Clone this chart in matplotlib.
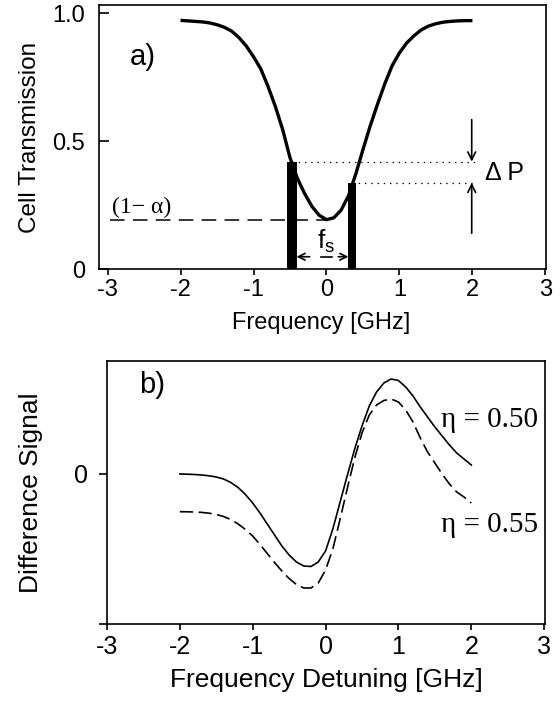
import numpy as np
import matplotlib
matplotlib.use('Agg')
import matplotlib.pyplot as plt

plt.rcParams['font.family'] = ['Liberation Sans', 'DejaVu Sans']
plt.rcParams['lines.scale_dashes'] = False
plt.rcParams['axes.unicode_minus'] = False

# ---------------------------------------------------------------- data
freq = [-2.0, -1.9, -1.8, -1.7, -1.6, -1.5, -1.4, -1.3, -1.2, -1.1, -1.0,
        -0.9, -0.8, -0.7, -0.6, -0.5, -0.4, -0.3, -0.2, -0.1, 0.0,
        0.1, 0.2, 0.3, 0.4, 0.5, 0.6, 0.7, 0.8, 0.9, 1.0,
        1.1, 1.2, 1.3, 1.4, 1.5, 1.6, 1.7, 1.8, 1.9, 2.0]

# a) cell transmission
trans = [0.972, 0.970, 0.968, 0.966, 0.962, 0.955, 0.945, 0.930, 0.905, 0.872, 0.830,
         0.782, 0.713, 0.635, 0.545, 0.435, 0.355, 0.295, 0.245, 0.210, 0.193,
         0.200, 0.230, 0.285, 0.370, 0.467, 0.560, 0.645, 0.725, 0.795, 0.845,
         0.884, 0.912, 0.935, 0.950, 0.959, 0.965, 0.968, 0.970, 0.971, 0.971]
alpha_level = 0.193
bar_freq = [-0.473, 0.353]
bar_top = [0.42, 0.337]

# b) difference signal (arb. units)
diff_050 = [0.000, -0.002, -0.005, -0.010, -0.018, -0.030, -0.050, -0.085, -0.135, -0.205, -0.29,
            -0.39, -0.50, -0.61, -0.72, -0.81, -0.88, -0.92, -0.925, -0.88, -0.77,
            -0.55, -0.28, -0.01, 0.25, 0.48, 0.68, 0.82, 0.91, 0.95, 0.935,
            0.87, 0.78, 0.67, 0.57, 0.47, 0.38, 0.29, 0.21, 0.15, 0.09]
diff_055 = [-0.377, -0.378, -0.380, -0.384, -0.392, -0.405, -0.425, -0.455, -0.50, -0.555, -0.62,
            -0.705, -0.795, -0.885, -0.97, -1.045, -1.105, -1.14, -1.14, -1.09, -0.96,
            -0.75, -0.45, -0.14, 0.16, 0.41, 0.59, 0.69, 0.735, 0.75, 0.72,
            0.64, 0.52, 0.36, 0.22, 0.11, 0.00, -0.10, -0.18, -0.23, -0.29]

xticks = [-3, -2, -1, 0, 1, 2, 3]
yticks_a = [0, 0.5, 1.0]
yticklabels_a = ['0', '0.5', '1.0']

SERIF = ['Liberation Serif', 'DejaVu Serif']
fig = plt.figure(figsize=(5.6, 7.07), dpi=100)

# ---------------------------------------------------------------- a)
ax = fig.add_axes([0.1768, 0.6195, 0.7982, 0.3734])
ax.plot(freq, trans, color='black', lw=2.4, solid_capstyle='butt')
ax.bar(bar_freq, bar_top, width=[0.137, 0.114], color='black', align='center')
ax.plot([-2.97, 0.0], [alpha_level, alpha_level], color='black', lw=1.1, dashes=(10.5, 6))
ax.text(-2.53, 0.24, '(1\u2212 \u03b1)', family=SERIF, fontsize=17, ha='center', va='center')
ax.plot([bar_freq[0], 2.06], [bar_top[0]] * 2, color='black', lw=0.9, ls=(0, (1, 3.5)))
ax.plot([bar_freq[1], 2.06], [bar_top[1]] * 2, color='black', lw=0.9, ls=(0, (1, 3.5)))
# delta P arrows
arrow = dict(arrowstyle='->', lw=1.2, color='black', shrinkA=0, shrinkB=0, mutation_scale=14)
ax.annotate('', xy=(1.99, bar_top[0]), xytext=(1.99, 0.584), arrowprops=arrow)
ax.annotate('', xy=(1.99, bar_top[1]), xytext=(1.99, 0.14), arrowprops=arrow)
ax.text(2.17, 0.375, '\u0394 P', fontsize=18, ha='left', va='center')
# f_s spacing arrow
small = dict(arrow, mutation_scale=12)
ax.annotate('', xy=(-0.41, 0.048), xytext=(-0.23, 0.048), arrowprops=small)
ax.annotate('', xy=(0.30, 0.048), xytext=(0.16, 0.048), arrowprops=small)
ax.plot([-0.07, 0.07], [0.048, 0.048], color='black', lw=1.2)
ax.text(0.0, 0.11, r'f$_\mathregular{s}$', fontsize=19, ha='center', va='center')
ax.text(-2.52, 0.83, 'a)', fontsize=21, ha='center', va='center')

ax.set_xlim(-3.117, 3.008)
ax.set_ylim(0, 1.032)
ax.set_xticks(xticks)
ax.set_yticks(yticks_a)
ax.set_yticklabels(yticklabels_a)
ax.tick_params(axis='y', direction='in', length=7, width=1.2, labelsize=17, pad=10)
ax.tick_params(axis='x', direction='out', length=4.5, width=1.2, labelsize=17, pad=3)
ax.set_xlabel('Frequency [GHz]', fontsize=17)
ax.set_ylabel('Cell Transmission', fontsize=17.5)
ax.xaxis.set_label_coords(0.498, -0.163)
ax.yaxis.set_label_coords(-0.13, 0.5)
for s in ax.spines.values():
    s.set_linewidth(1.2)

# ---------------------------------------------------------------- b)
bx = fig.add_axes([0.191, 0.1167, 0.782, 0.3727])
bx.plot(freq, diff_050, color='black', lw=1.2)
bx.plot(freq, diff_055, color='black', lw=1.2, dashes=(9.5, 4))
bx.text(1.58, 0.54, '\u03b7 = 0.50', family=SERIF, fontsize=21, ha='left', va='center')
bx.text(1.58, -0.51, '\u03b7 = 0.55', family=SERIF, fontsize=21, ha='left', va='center')
bx.text(-2.38, 0.89, 'b)', fontsize=21, ha='center', va='center')

bx.set_xlim(-2.986, 3.01)
bx.set_ylim(-1.505, 1.13)
bx.set_xticks(xticks)
bx.set_yticks([-1.505, 0])
bx.set_yticklabels(['', '0'])
bx.tick_params(axis='y', direction='out', length=6, width=1.2, labelsize=18, pad=8)
bx.tick_params(axis='x', direction='out', length=4.5, width=1.2, labelsize=18, pad=3)
bx.set_xlabel('Frequency Detuning [GHz]', fontsize=19)
bx.set_ylabel('Difference Signal', fontsize=19)
bx.xaxis.set_label_coords(0.5, -0.165)
bx.yaxis.set_label_coords(-0.145, 0.5)
for s in bx.spines.values():
    s.set_linewidth(1.2)

fig.savefig('out.png', dpi=100)
